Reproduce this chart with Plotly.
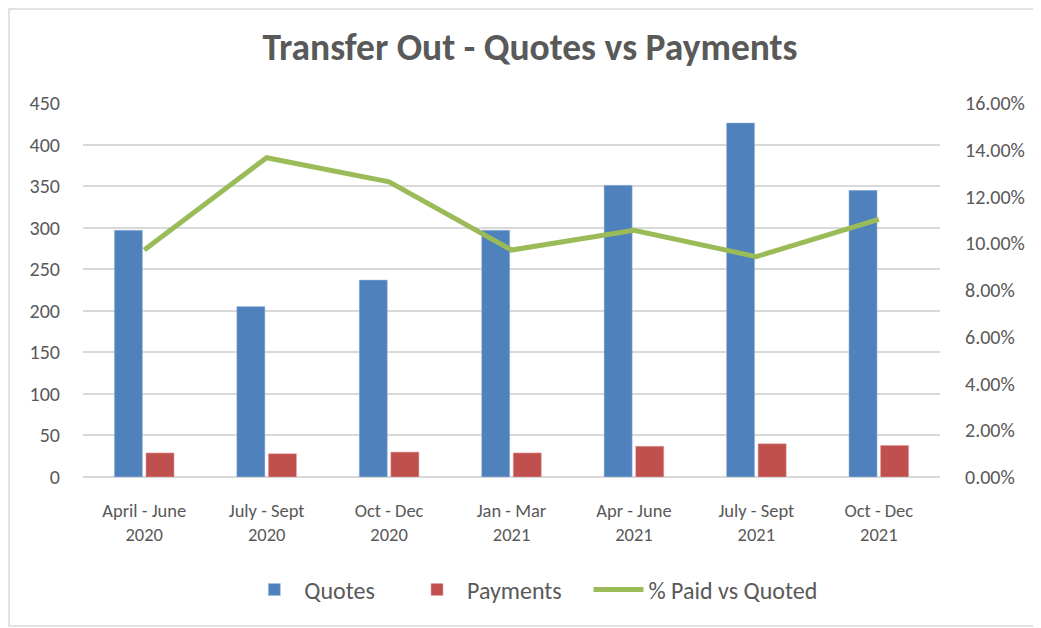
import plotly.graph_objects as go

# data
periods = [
    "April - June<br>2020",
    "July - Sept<br>2020",
    "Oct - Dec<br>2020",
    "Jan - Mar<br>2021",
    "Apr - June<br>2021",
    "July - Sept<br>2021",
    "Oct - Dec<br>2021",
]
quotes = [297, 205, 237, 297, 351, 426, 345]
payments = [29, 28, 30, 29, 37, 40, 38]
pct_paid = [0.0971, 0.1366, 0.1263, 0.0971, 0.1055, 0.0943, 0.1102]

FONT = "Carlito, Calibri, Lato, sans-serif"
GREY = "#595959"
GRID = "#D9D9D9"
NB = "\u00a0"  # pads legend entries apart like the Excel legend

# page body has an 8px margin, so the figure is drawn 8px in from the corner
W, H = 1033, 620
L, T, PW, PH = 75, 95, 857, 374

fig = go.Figure()

fig.add_trace(go.Bar(x=periods, y=quotes, name="Quotes" + NB * 5,
                     marker=dict(color="#4F81BD", line=dict(color="#A9C1E0", width=0.5))))
fig.add_trace(go.Bar(x=periods, y=payments, name="Payments" + NB * 4,
                     marker=dict(color="#C0504D", line=dict(color="#E3A9A8", width=0.5))))
fig.add_trace(go.Scatter(x=periods, y=pct_paid, name="% Paid vs Quoted", yaxis="y2",
                         mode="lines", line=dict(color="#9BBB59", width=5)))

fig.update_layout(
    width=W,
    height=H,
    margin=dict(l=L, r=W - L - PW, t=T, b=H - T - PH, autoexpand=False),
    paper_bgcolor="white",
    plot_bgcolor="white",
    font=dict(family=FONT, color=GREY, size=20),
    title=dict(text="<b>Transfer Out - Quotes vs Payments</b>", x=(530 - 8) / W, xanchor="center",
               y=1 - 39 / H, yanchor="middle", font=dict(size=37.5, color=GREY, family=FONT)),
    barmode="group",
    bargap=0.484,
    bargroupgap=0.11,
    xaxis=dict(showgrid=False, showline=False, ticks="", tickfont=dict(size=18.5),
               ticklabelstandoff=20),
    yaxis=dict(range=[0, 450], dtick=50, showgrid=True, gridcolor=GRID, gridwidth=1.5,
               zeroline=True, zerolinecolor=GRID, zerolinewidth=1.5, ticks="",
               ticklabelstandoff=22, tickfont=dict(size=20)),
    yaxis2=dict(range=[0, 0.16], dtick=0.02, tickformat=".2%", overlaying="y", side="right",
                showgrid=False, zeroline=False, ticks="", ticklabelstandoff=24,
                tickfont=dict(size=20)),
    legend=dict(orientation="h", x=0.5255, xanchor="center", y=-0.302, yanchor="middle",
                font=dict(size=24), traceorder="normal", itemwidth=50),
    showlegend=True,
)

# outer chart border (left/top edges sit at the figure edge)
fig.add_shape(type="rect", xref="paper", yref="paper",
              x0=(1 - L) / PW, x1=(1029 - L) / PW,
              y0=(T + PH - 618) / PH, y1=(T + PH - 1) / PH,
              line=dict(color=GRID, width=1.5), layer="below")

fig.write_html("out.html")
